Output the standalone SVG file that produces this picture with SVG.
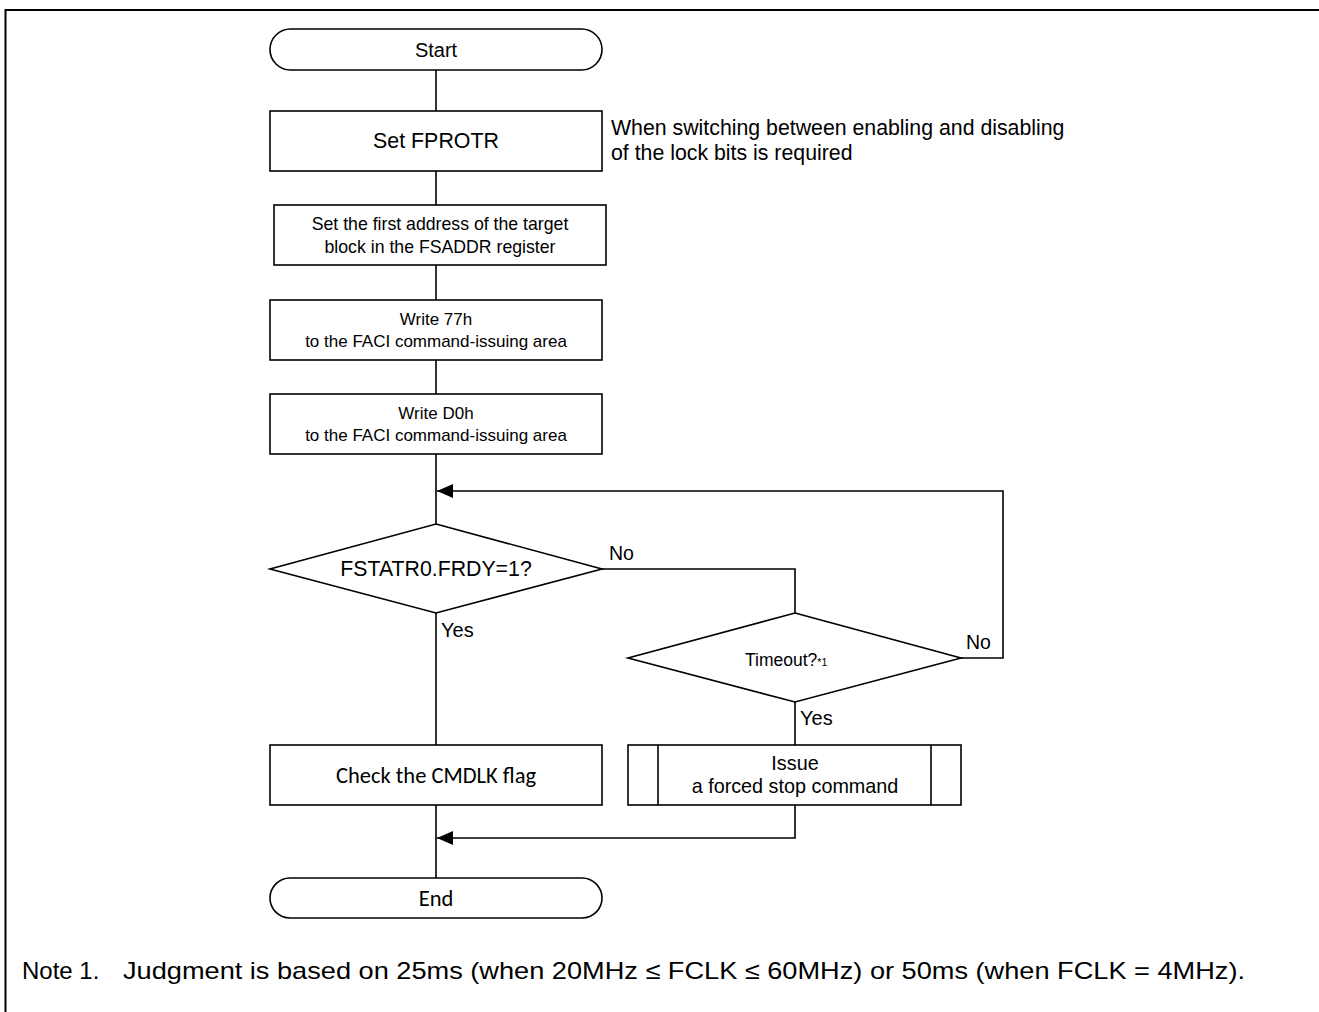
<svg xmlns="http://www.w3.org/2000/svg" width="1319" height="1012" viewBox="0 0 1319 1012">
<defs>
<style>
.s{fill:#fff;stroke:#000;stroke-width:1.6}
.c{fill:none;stroke:#000;stroke-width:1.6}
.t{font-family:"Liberation Sans",Arial,sans-serif;fill:#000}
.m{text-anchor:middle}
.cal{font-family:Carlito,Lato,"Open Sans",sans-serif;fill:#000;text-anchor:middle}
</style>
<marker id="ah" viewBox="0 0 16 14" refX="16" refY="7" markerWidth="16" markerHeight="14" markerUnits="userSpaceOnUse" orient="auto">
<path d="M0,0 L16,7 L0,14 Z" fill="#000"/>
</marker>
</defs>
<rect width="1319" height="1012" fill="#fff"/>
<path d="M5.5,1012 V10 H1319" fill="none" stroke="#000" stroke-width="2"/>

<g id="connectors">
<path class="c" d="M436,70 V111"/>
<path class="c" d="M436,171 V205"/>
<path class="c" d="M436,265 V300"/>
<path class="c" d="M436,360 V394"/>
<path class="c" d="M436,454 V524"/>
<path class="c" d="M602,569 H795 V613"/>
<path class="c" d="M961,658 H1003 V491 H437" marker-end="url(#ah)"/>
<path class="c" d="M795,702 V745"/>
<path class="c" d="M436,613 V745"/>
<path class="c" d="M436,805 V878"/>
<path class="c" d="M795,805 V838 H437" marker-end="url(#ah)"/>
<text class="t" x="609" y="560" font-size="19.5">No</text>
<text class="t" x="441" y="637" font-size="20">Yes</text>
<text class="t" x="966" y="649" font-size="19.5">No</text>
<text class="t" x="800" y="725" font-size="20">Yes</text>
</g>

<g id="start">
<rect class="s" x="270" y="29" width="332" height="41" rx="20.5"/>
<text class="t m" x="436" y="57" font-size="20">Start</text>
</g>

<g id="set-fprotr">
<rect class="s" x="270" y="111" width="332" height="60"/>
<text class="t m" x="436" y="148" font-size="21.4">Set FPROTR</text>
</g>

<g id="note-fprotr">
<text class="t" x="611" y="135" font-size="21.3">When switching between enabling and disabling</text>
<text class="t" x="611" y="160" font-size="21.3">of the lock bits is required</text>
</g>

<g id="set-fsaddr">
<rect class="s" x="274" y="205" width="332" height="60"/>
<text class="t m" x="440" y="230" font-size="17.7">Set the first address of the target</text>
<text class="t m" x="440" y="253" font-size="17.7">block in the FSADDR register</text>
</g>

<g id="write-77h">
<rect class="s" x="270" y="300" width="332" height="60"/>
<text class="t m" x="436" y="325" font-size="17">Write 77h</text>
<text class="t m" x="436" y="347" font-size="17">to the FACI command-issuing area</text>
</g>

<g id="write-d0h">
<rect class="s" x="270" y="394" width="332" height="60"/>
<text class="t m" x="436" y="419" font-size="17">Write D0h</text>
<text class="t m" x="436" y="441" font-size="17">to the FACI command-issuing area</text>
</g>

<g id="check-frdy">
<polygon class="s" points="436,524 602,569 436,613 270,569"/>
<text class="t m" x="436" y="576" font-size="21.3">FSTATR0.FRDY=1?</text>
</g>

<g id="timeout">
<polygon class="s" points="795,613 961,658 795,702 628,658"/>
<text class="t" x="745" y="666" font-size="17.5">Timeout?<tspan font-size="10.5">*1</tspan></text>
</g>

<g id="forced-stop">
<rect class="s" x="628" y="745" width="333" height="60"/>
<path class="c" d="M658,745 V805 M931,745 V805"/>
<text class="t m" x="795" y="770" font-size="19.8">Issue</text>
<text class="t m" x="795" y="793" font-size="19.8">a forced stop command</text>
</g>

<g id="check-cmdlk">
<rect class="s" x="270" y="745" width="332" height="60"/>
<text class="cal" x="436" y="783" font-size="22.5">Check the CMDLK flag</text>
</g>

<g id="end">
<rect class="s" x="270" y="878" width="332" height="40" rx="20"/>
<text class="cal" x="436" y="906" font-size="22.5">End</text>
</g>

<g id="footnote">
<text class="t" x="22" y="979" font-size="24">Note 1.</text>
<text class="t" x="123" y="979" font-size="24" textLength="1122" lengthAdjust="spacingAndGlyphs">Judgment is based on 25ms (when 20MHz ≤ FCLK ≤ 60MHz) or 50ms (when FCLK = 4MHz).</text>
</g>
</svg>
